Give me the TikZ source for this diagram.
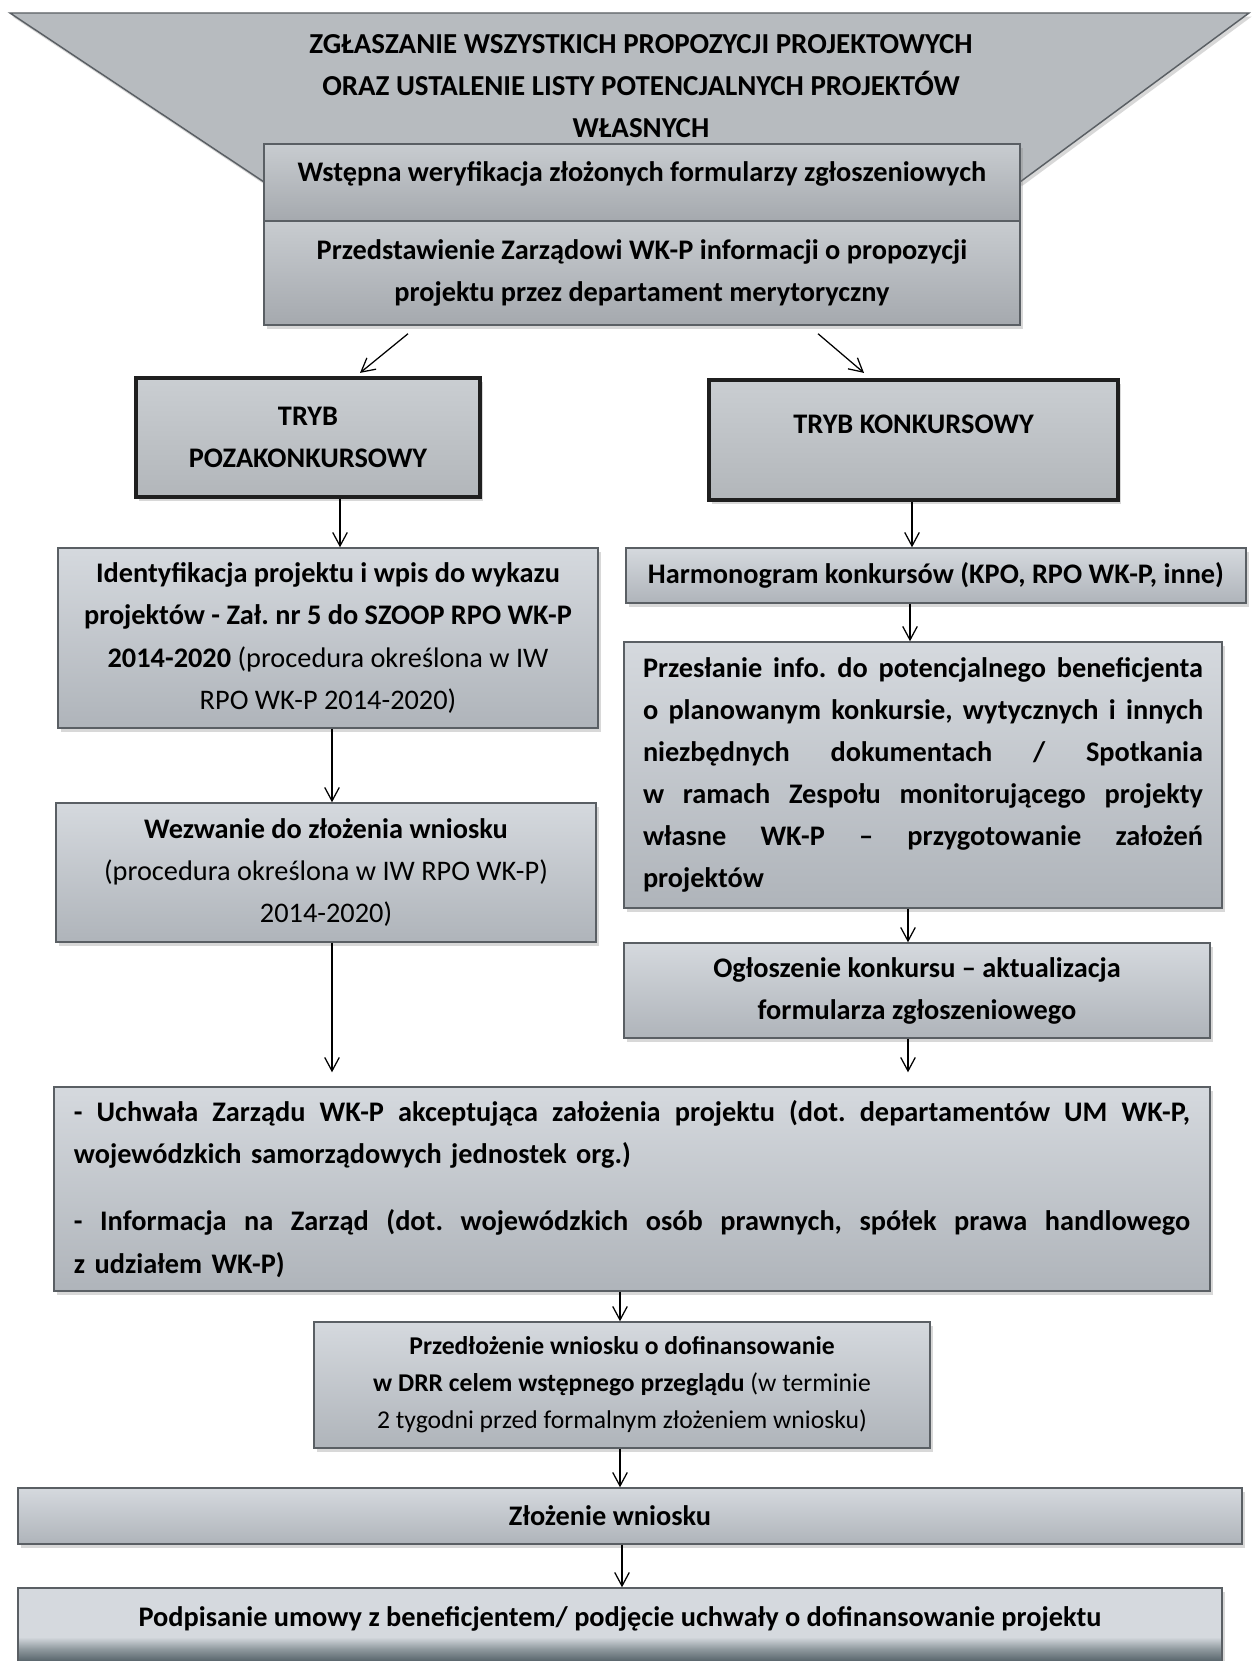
\documentclass[tikz,border=0pt]{standalone}
\usepackage{fontspec}
\setmainfont{Carlito}
\usetikzlibrary{arrows.meta,shadows,calc}
\definecolor{bxT}{HTML}{D5D9DE}
\definecolor{bxB}{HTML}{AFB4BA}
\definecolor{bxT2}{HTML}{C8CCD0}
\definecolor{bxB2}{HTML}{A5A9AE}
\definecolor{bxT3}{HTML}{CACED2}
\definecolor{bxB3}{HTML}{B2B6BA}
\definecolor{bxE}{HTML}{5A5F64}
\definecolor{trF}{HTML}{B7BBBF}
\definecolor{dk}{HTML}{3A464C}
\definecolor{dkm}{HTML}{56636A}
\definecolor{mid}{HTML}{8E989D}
\pgfdeclareverticalshading{podsh}{100bp}{color(0bp)=(dk); color(25bp)=(dk); color(39bp)=(dkm); color(45bp)=(mid); color(51bp)=(bxT); color(100bp)=(bxT)}
\newcommand\jline[2]{\leavevmode\hbox to #1{#2}}
\begin{document}
\begin{tikzpicture}[x=0.48pt,y=-0.48pt,
  font=\bfseries\fontsize{13.6}{20.2}\selectfont\frenchspacing,
  corners/.code n args={4}{%
    \pgfmathsetmacro\cw{(#3-#1)*0.48}%
    \pgfmathsetmacro\ch{(#4-#2)*0.48}%
    \pgfmathsetmacro\cx{(#1+#3)/2}%
    \pgfmathsetmacro\cy{(#2+#4)/2}%
    \edef\tmp{\noexpand\tikzset{minimum width=\cw pt,minimum height=\ch pt,at={(\cx,\cy)}}}\tmp},
  shad/.style={drop shadow={shadow xshift=1.2pt,shadow yshift=-1.8pt,opacity=0.3}},
  box/.style={draw=bxE,line width=0.7pt,top color=bxT,bottom color=bxB,inner sep=0pt,shad},
  boxa/.style={box,top color=bxT2,bottom color=bxB2},
  tryb/.style={draw=black!88,line width=2pt,top color=bxT3,bottom color=bxB3,inner sep=0pt,shad},
  arr/.style={-{Straight Barb[length=6.5pt,width=7pt]},line width=0.6pt,black}]
\useasboundingbox (0,0) rectangle (1255,1661);
\clip (0,0) rectangle (1255,1661);
\fill[white] (0,0) rectangle (1255,1661);
% funnel
\filldraw[draw=bxE,fill=trF,line width=0.7pt,shad] (10,13) -- (1249,13) -- (1020,182) -- (264,182) -- cycle;
\node[align=center,font=\bfseries\fontsize{13.9}{20.2}\selectfont] (trap) at (641,86) {ZGŁASZANIE WSZYSTKICH PROPOZYCJI PROJEKTOWYCH\\ORAZ USTALENIE LISTY POTENCJALNYCH PROJEKTÓW\\WŁASNYCH};
% boxes
\node[boxa,corners={264}{144}{1020}{221},text height=9pt,text depth=9.8pt] (wst) {Wstępna weryfikacja złożonych formularzy zgłoszeniowych};
\node[boxa,corners={264}{221}{1020}{325},align=center] (prz) {Przedstawienie Zarządowi WK-P informacji o propozycji\\projektu przez departament merytoryczny};
\node[tryb,corners={136}{378}{480}{497},align=center] (poza) {TRYB\\POZAKONKURSOWY};
\node[tryb,corners={709}{380}{1118}{500},text height=9pt,text depth=15pt] (konk) {TRYB KONKURSOWY};
\node[box,corners={58}{548}{598}{728},align=center] (ident) {Identyfikacja projektu i wpis do wykazu\\projektów - Zał. nr 5 do SZOOP RPO WK-P\\2014-2020 {\mdseries(procedura określona w IW}\\{\mdseries RPO WK-P 2014-2020)}};
\node[box,corners={626}{548}{1246}{603}] (harm) {Harmonogram konkursów (KPO, RPO WK-P, inne)};
\node[box,corners={624}{642}{1222}{908},text width=268.8pt,align=left] (przes) {%
\jline{268.8pt}{Przesłanie \hfill info. \hfill do \hfill potencjalnego \hfill beneficjenta}\\
\jline{268.8pt}{o \hfill planowanym \hfill konkursie, \hfill wytycznych \hfill i \hfill innych}\\
\jline{268.8pt}{niezbędnych \hfill dokumentach \hfill / \hfill Spotkania}\\
\jline{268.8pt}{w \hfill ramach \hfill Zespołu \hfill monitorującego \hfill projekty}\\
\jline{268.8pt}{własne \hfill WK-P \hfill – \hfill przygotowanie \hfill założeń}\\
projektów};
\node[box,corners={56}{803}{596}{942},align=center] (wezw) {Wezwanie do złożenia wniosku\\{\mdseries(procedura określona w IW RPO WK-P)}\\{\mdseries 2014-2020)}};
\node[box,corners={624}{943}{1210}{1038},align=center] (ogl) {Ogłoszenie konkursu – aktualizacja\\formularza zgłoszeniowego};
\node[box,corners={54}{1087}{1210}{1291},text width=535.7pt,align=left] (uchw) {%
\jline{535.7pt}{- \hfill Uchwała \hfill Zarządu \hfill WK-P \hfill akceptująca \hfill założenia \hfill projektu \hfill (dot. \hfill departamentów \hfill UM \hfill WK-P,}\\
wojewódzkich samorządowych jednostek org.)\\[12pt]
\jline{535.7pt}{- \hfill Informacja \hfill na \hfill Zarząd \hfill (dot. \hfill wojewódzkich \hfill osób \hfill prawnych, \hfill spółek \hfill prawa \hfill handlowego}\\
z udziałem WK-P)};
\node[box,corners={314}{1322}{930}{1448},align=center,font=\bfseries\fontsize{12.3}{17.8}\selectfont\frenchspacing] (przed) {Przedłożenie wniosku o dofinansowanie\\w DRR celem wstępnego przeglądu {\mdseries(w terminie}\\{\mdseries 2 tygodni przed formalnym złożeniem wniosku)}};
\node[box,corners={18}{1488}{1242}{1544}] (zloz) {\hspace*{-19.2pt}Złożenie wniosku};
\node[box,shading=podsh,corners={18}{1588}{1222}{1690},text height=9pt,text depth=20.6pt] (podp) {Podpisanie umowy z beneficjentem/ podjęcie uchwały o dofinansowanie projektu};
% connectors
\draw[arr] ($(prz.south)+(-234,8)$) -- ($(poza.north)+(52,-3)$);
\draw[arr] ($(prz.south)+(176,8)$) -- ($(konk.north)+(-49.5,-5)$);
\draw[arr] ($(poza.south)+(32,0)$) -- ($(ident.north)+(12,0)$);
\draw[arr] ($(konk.south)+(-1.5,0)$) -- ($(harm.north)+(-24,0)$);
\draw[arr] ($(harm.south)+(-26,0)$) -- ($(przes.north)+(-13,0)$);
\draw[arr] ($(ident.south)+(4,0)$) -- ($(wezw.north)+(6,0)$);
\draw[arr] ($(przes.south)+(-15,0)$) -- ($(ogl.north)+(-9,0)$);
\draw[arr] ($(wezw.south)+(6,0)$) -- ($(uchw.north)+(-300,-14)$);
\draw[arr] ($(ogl.south)+(-9,0)$) -- ($(uchw.north)+(276,-14)$);
\draw[arr] ($(uchw.south)+(-12,0)$) -- ($(przed.north)+(-2,0)$);
\draw[arr] ($(przed.south)+(-2,0)$) -- ($(zloz.north)+(-10,0)$);
\draw[arr] ($(zloz.south)+(-8,0)$) -- ($(podp.north)+(2,0)$);
\end{tikzpicture}
\end{document}
